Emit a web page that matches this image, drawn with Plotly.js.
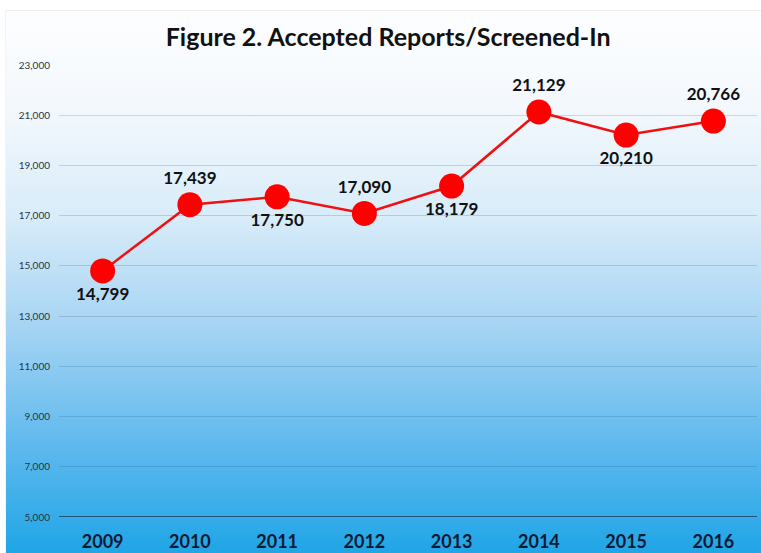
<!DOCTYPE html>
<html>
<head>
<meta charset="utf-8">
<script src="https://cdn.plot.ly/plotly-3.0.1.min.js"></script>
<style>
  html, body { margin: 0; padding: 0; background: #ffffff; }
  #bg { position: absolute; left: 5px; top: 10px; width: 756px; height: 543px;
        background: linear-gradient(to bottom, #fdfeff 0%, #f3f8fd 18%, #d8ecf9 38%, #a6d4f3 58%, #5fb9ee 80%, #1fa5e6 100%);
        border-top: 1px solid #eef0f2; border-left: 1px solid #f2f4f6; }
  #chart { position: absolute; left: 0; top: 0; width: 761px; height: 553px; }
</style>
</head>
<body>
<div id="bg"></div>
<div id="chart"></div>
<script>
const years = ['2009', '2010', '2011', '2012', '2013', '2014', '2015', '2016'];
const reports = [14799, 17439, 17750, 17090, 18179, 21129, 20210, 20766];
const labelPositions = ['bottom center', 'top center', 'bottom center', 'top center',
                        'bottom center', 'top center', 'bottom center', 'top center'];
const yTicks = [5000, 7000, 9000, 11000, 13000, 15000, 17000, 19000, 21000, 23000];

const trace = {
  x: years,
  y: reports,
  type: 'scatter',
  mode: 'lines+markers+text',
  line: { color: '#f01010', width: 2.5 },
  marker: { color: '#ff0000', size: 25 },
  text: reports.map(v => v.toLocaleString('en-US')),
  textposition: labelPositions,
  textfont: { family: 'Lato, "Open Sans", sans-serif', size: 17, color: '#111111', weight: 'bold' },
  cliponaxis: false,
  hoverinfo: 'skip'
};

const layout = {
  width: 761, height: 553,
  margin: { l: 59, r: 4, t: 65, b: 36 },
  paper_bgcolor: 'rgba(0,0,0,0)',
  plot_bgcolor: 'rgba(0,0,0,0)',
  showlegend: false,
  title: {
    text: '<b>Figure 2. Accepted Reports/Screened-In</b>',
    x: 0.51, xanchor: 'center', y: 0.932, yanchor: 'middle',
    font: { family: 'Lato, "Open Sans", sans-serif', size: 25, color: '#111111' }
  },
  xaxis: {
    type: 'category',
    range: [-0.5, 7.5],
    showgrid: false,
    zeroline: false,
    showline: false,
    ticks: '',
    ticklabelstandoff: 12,
    tickfont: { family: 'Lato, "Open Sans", sans-serif', size: 18, color: '#0b1a33', weight: 'bold' },
    fixedrange: true
  },
  yaxis: {
    range: [5000, 23000],
    tickvals: yTicks,
    ticktext: yTicks.map(v => v.toLocaleString('en-US')),
    showgrid: true,
    gridcolor: 'rgba(20,60,100,0.18)',
    gridwidth: 1.2,
    zeroline: false,
    showline: false,
    ticks: '',
    ticklabelstandoff: 8,
    tickfont: { family: 'Lato, "Open Sans", sans-serif', size: 10, color: '#2a3442' },
    fixedrange: true
  },
  shapes: [{
    type: 'line', xref: 'paper', yref: 'y', x0: 0, x1: 1, y0: 5000, y1: 5000,
    line: { color: '#1b3550', width: 1.5 }
  }]
};

Plotly.newPlot('chart', [trace], layout, { displayModeBar: false, staticPlot: true });
</script>
</body>
</html>
